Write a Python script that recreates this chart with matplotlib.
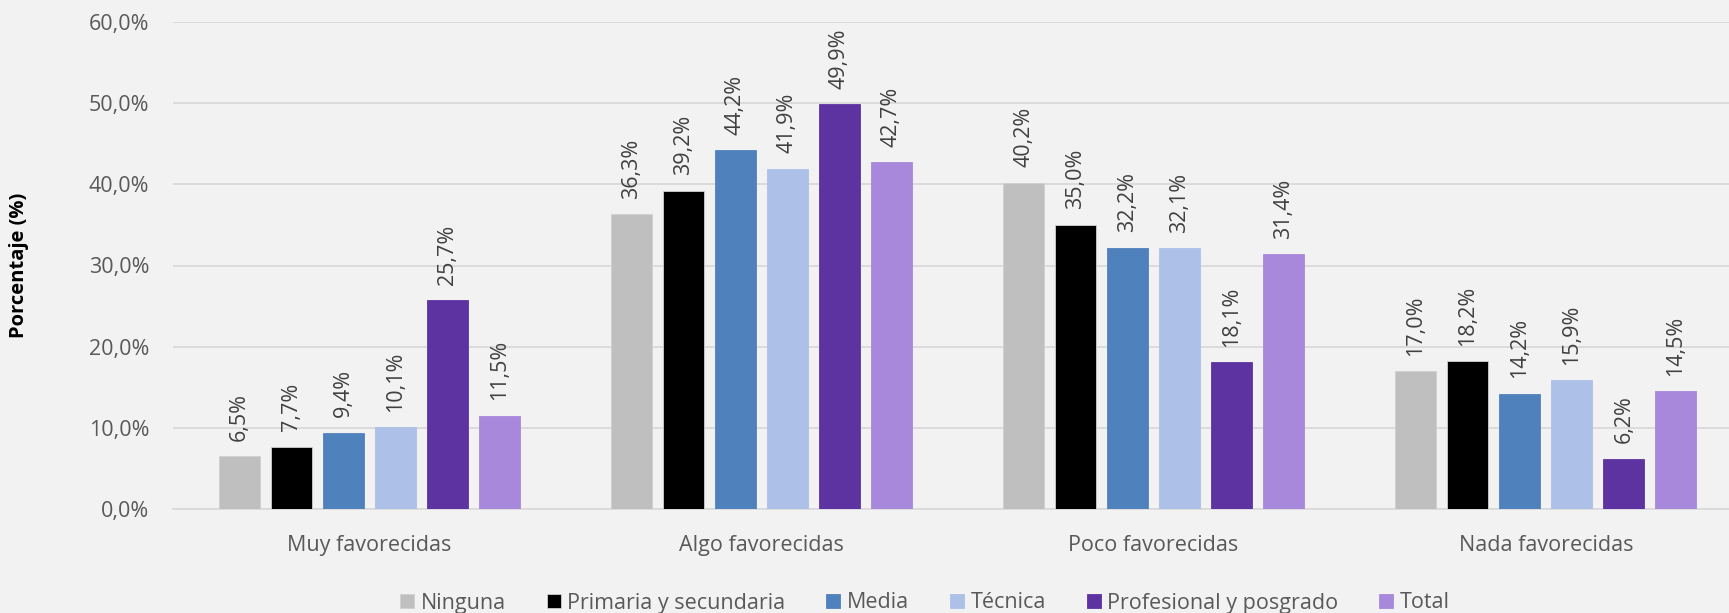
import matplotlib
matplotlib.use("Agg")
import matplotlib.pyplot as plt
import numpy as np

categories = ["Muy favorecidas", "Algo favorecidas", "Poco favorecidas", "Nada favorecidas"]
series = ["Ninguna", "Primaria y secundaria", "Media", "Técnica", "Profesional y posgrado", "Total"]
ninguna = [6.5, 36.3, 40.2, 17.0]
primaria = [7.7, 39.2, 35.0, 18.2]
media = [9.4, 44.2, 32.2, 14.2]
tecnica = [10.1, 41.9, 32.1, 15.9]
profesional = [25.7, 49.9, 18.1, 6.2]
total = [11.5, 42.7, 31.4, 14.5]
yticks = [0, 10, 20, 30, 40, 50, 60]

values = [ninguna, primaria, media, tecnica, profesional, total]
colors = ["#BFBFBF", "#000000", "#4F81BD", "#ADC0E8", "#5C33A0", "#A788DA"]

plt.rcParams['font.family'] = ['Open Sans', 'DejaVu Sans']
bg = "#F2F2F2"
W, H = 1729, 613
fig = plt.figure(figsize=(W / 100, H / 100), dpi=100, facecolor=bg)
ax = fig.add_axes([173 / W, 1 - 509 / H, 1569 / W, 487 / H], facecolor=bg)

x = np.arange(len(categories))
step = 0.1326
width = 0.1045
for i, (s, v, c) in enumerate(zip(series, values, colors)):
    pos = x + (i - 2.5) * step
    ax.bar(pos, v, width, color=c, label=s, zorder=3,
           edgecolor="#D0D0D0" if i < 2 else c, linewidth=0.6)
    for xp, val in zip(pos, v):
        ax.text(xp, val + 1.9, f"{val:.1f}".replace(".", ",") + "%", rotation=90,
                ha="center", va="bottom", fontsize=15.5, color="#404040", zorder=4)

ax.set_xlim(-0.5, len(categories) - 0.5)
ax.set_ylim(0, 60)
ax.set_yticks(yticks)
ax.set_yticklabels([f"{t:.1f}".replace(".", ",") + "%" for t in yticks])
ax.grid(axis="y", color="#D9D9D9", linewidth=1.3, zorder=0)
ax.set_axisbelow(True)
for sp in ["top", "right", "left"]:
    ax.spines[sp].set_visible(False)
ax.spines["bottom"].set_color("#D9D9D9")
ax.spines["bottom"].set_linewidth(1.3)
ax.tick_params(axis="both", length=0, labelsize=15.5, labelcolor="#595959")
ax.tick_params(axis="y", pad=17)
ax.tick_params(axis="x", pad=19)
ax.set_xticks(x)
ax.set_xticklabels(categories)

fig.text(19 / W, 1 - 265 / H, "Porcentaje (%)", rotation=90, ha="center", va="center",
         fontsize=14.5, fontweight="bold", color="#000000")

fig.legend(loc="center", bbox_to_anchor=(925 / W, 1 - 603 / H), ncol=6, frameon=False,
           fontsize=15.5, handlelength=0.65, handleheight=0.65, handletextpad=0.3,
           columnspacing=1.9, labelcolor="#595959")

fig.savefig("out.png", dpi=100, facecolor=bg)
